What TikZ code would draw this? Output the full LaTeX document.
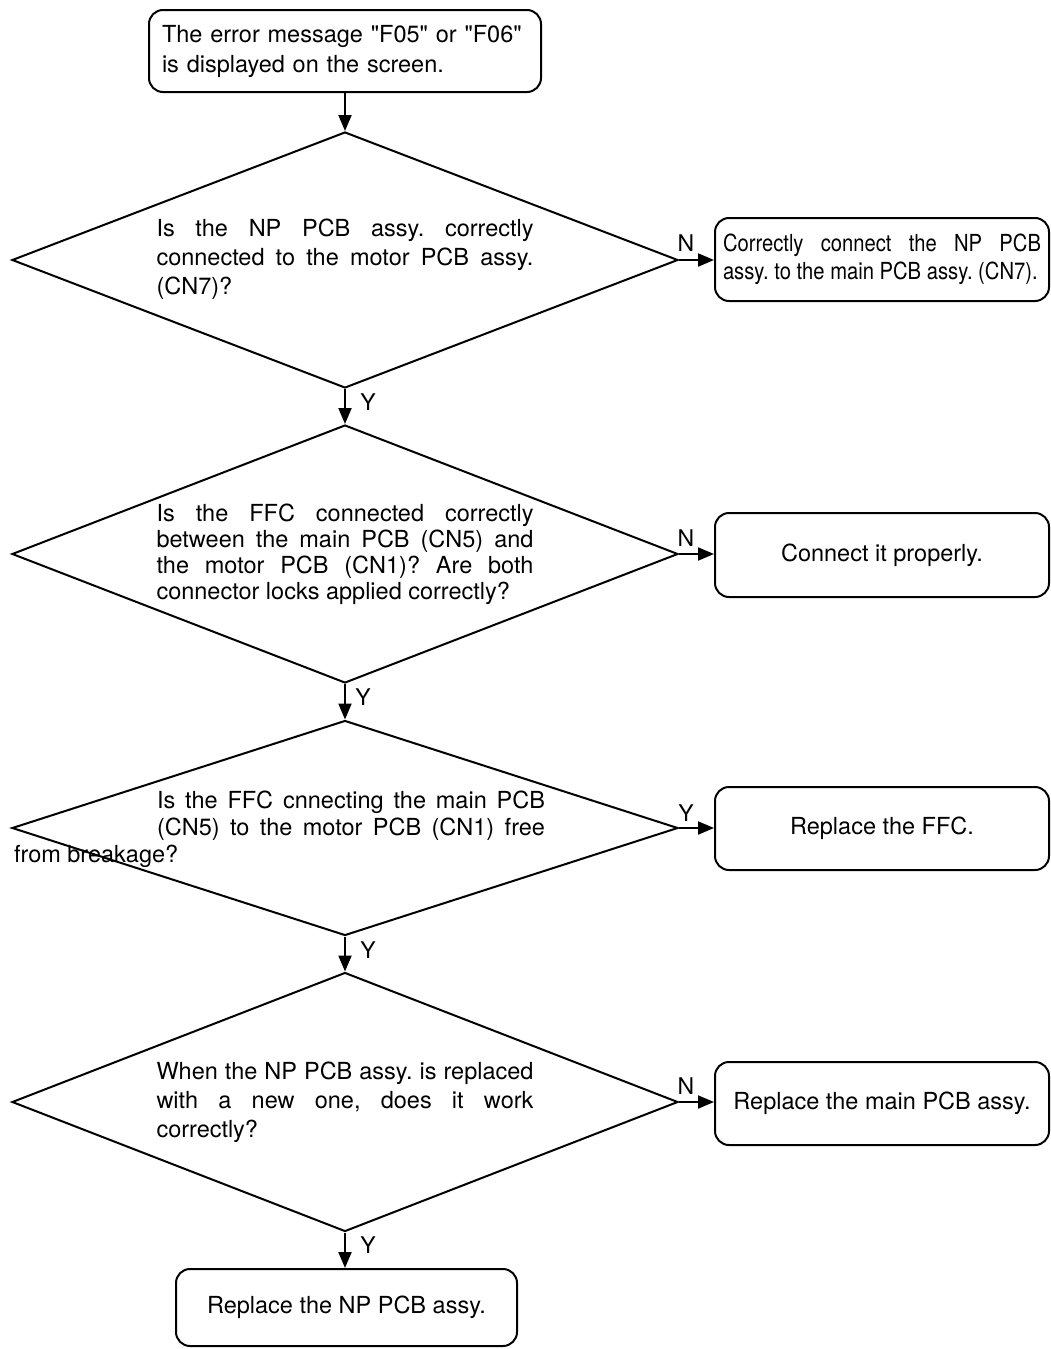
\documentclass[tikz,border=0pt]{standalone}
\usepackage{fontspec}
\setmainfont{TeX Gyre Heros}[Ligatures=TeXOff]
\newfontfamily\condfont{TeX Gyre Heros}[FakeStretch=0.86,Ligatures=TeXOff]
\usetikzlibrary{shapes.geometric,arrows.meta}
\hyphenpenalty=10000
\exhyphenpenalty=10000
\frenchspacing
\begin{document}
\begin{tikzpicture}[x=1pt,y=-1pt,line width=2pt,
  box/.style={draw,rounded corners=14pt,inner ysep=0pt,inner xsep=0pt},
  dia/.style={draw,diamond,inner sep=0pt,minimum width=666pt,minimum height=#1},
  qtext/.style={text width=#1,align=justify,inner sep=0pt,
    font=\fontsize{23.5}{29}\selectfont},
  arr/.style={-{Triangle[length=16pt,width=13pt]}},
  txt/.style={font=\fontsize{23.5}{27}\selectfont},
  lab/.style={font=\fontsize{23}{25}\selectfont,inner sep=0pt}]
\useasboundingbox (0,0) rectangle (1050,1349);

% start box
\node[box,text width=366pt,inner xsep=13pt,minimum height=82pt,align=left,
  font=\fontsize{23.5}{30}\selectfont] (start) at (345,51)
  {The error message "F05" or "F06"\\is displayed on the screen.};

% diamonds
\node[dia=256pt] (d1) at (345,260) {};
\node[dia=258pt] (d2) at (345,554) {};
\node[dia=215pt] (d3) at (345,828) {};
\node[dia=259pt] (d4) at (345,1102) {};

% diamond texts
\node[qtext=377pt] (t1) at (345,259)
  {Is the NP PCB assy. correctly\linebreak connected to the motor PCB assy.\linebreak (CN7)?};
\node[qtext=377pt,font=\fontsize{23.5}{26}\selectfont] (t2) at (345,554)
  {Is the FFC connected correctly\linebreak between the main PCB (CN5) and\linebreak the motor PCB (CN1)? Are both\linebreak connector locks applied correctly?};
\node[text width=388pt,align=left,inner sep=0pt,font=\fontsize{23.5}{27}\selectfont] (t3) at (351,815.5)
  {\spaceskip=0.278em plus 1fil\xspaceskip=\spaceskip
   \makebox[388pt][s]{Is the FFC cnnecting the main PCB}\\\makebox[388pt][s]{(CN5) to the motor PCB (CN1) free}};
\node[anchor=west,inner sep=0pt,txt] (t3b) at (13,856) {from breakage?};
\node[qtext=377pt] (t4) at (345,1102)
  {When the NP PCB assy. is replaced\linebreak with a new one, does it work\linebreak correctly?};

% right-hand boxes
\node[box,text width=318pt,inner xsep=8pt,minimum height=83pt,align=justify,
  font=\condfont\fontsize{23.5}{28}\selectfont] (n1) at (882,259.5)
  {Correctly connect the NP PCB\linebreak assy. to the main PCB assy. (CN7).};
\node[box,minimum width=334pt,minimum height=84pt,txt] (n2) at (882,555)
  {Connect it properly.};
\node[box,minimum width=334pt,minimum height=83pt,txt] (n3) at (882,828.5)
  {Replace the FFC.};
\node[box,minimum width=334pt,minimum height=83pt,txt] (n4) at (882,1103.5)
  {Replace the main PCB assy.};

% final box
\node[box,minimum width=341pt,minimum height=77pt,txt] (fin) at (346.5,1307.5)
  {Replace the NP PCB assy.};

% connectors
\draw[arr] (start.south) -- (d1.north);
\draw[arr] (d1.south) -- (d2.north);
\draw[arr] (d2.south) -- (d3.north);
\draw[arr] (d3.south) -- (d4.north);
\draw[arr] (d4.south) -- (d4.south |- fin.north);

\draw[arr] (d1.east) -- (d1.east -| n1.west);
\draw[arr] (d2.east) -- (d2.east -| n2.west);
\draw[arr] (d3.east) -- (d3.east -| n3.west);
\draw[arr] (d4.east) -- (d4.east -| n4.west);

% labels
\node[lab] (l1n) at (686,243) {N};
\node[lab] (l1y) at (368,402) {Y};
\node[lab] (l2n) at (686,538) {N};
\node[lab] (l2y) at (363,697) {Y};
\node[lab] (l3y) at (686,813) {Y};
\node[lab] (l3y2) at (368,950) {Y};
\node[lab] (l4n) at (686,1086) {N};
\node[lab] (l4y) at (368,1245) {Y};
\end{tikzpicture}
\end{document}
